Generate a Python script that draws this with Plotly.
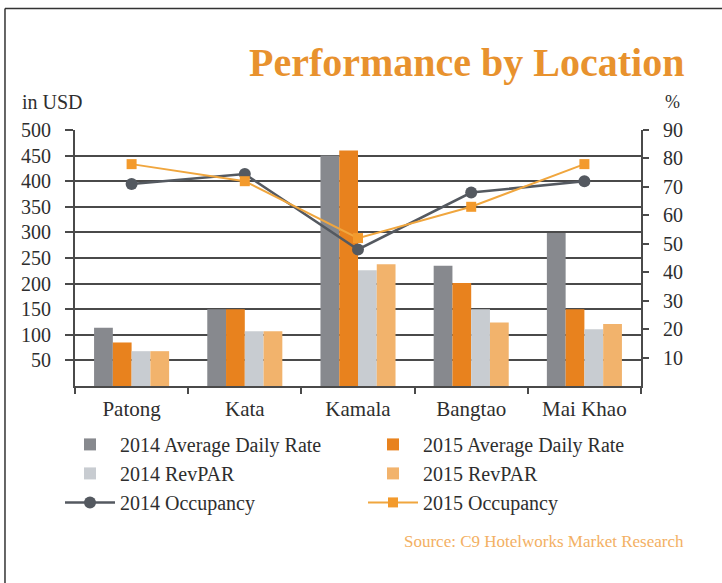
import plotly.graph_objects as go

locations = ["Patong", "Kata", "Kamala", "Bangtao", "Mai Khao"]
adr_2014 = [114, 150, 450, 235, 299]
adr_2015 = [85, 150, 460, 201, 150]
revpar_2014 = [68, 107, 226, 150, 111]
revpar_2015 = [68, 107, 238, 124, 121]
occ_2014 = [71, 74.5, 48, 68, 72]
occ_2015 = [78, 72, 52, 63, 78]

usd_ticks = [50, 100, 150, 200, 250, 300, 350, 400, 450, 500]
pct_ticks = [10, 20, 30, 40, 50, 60, 70, 80, 90]

FONT = "Liberation Serif"
AX = "#4a4a4a"
TXT = "#2e2e2e"

fig = go.Figure()
fig.add_trace(go.Bar(name="2014 Average Daily Rate", x=locations, y=adr_2014,
                     marker=dict(color="#87898e", line=dict(width=0))))
fig.add_trace(go.Bar(name="2015 Average Daily Rate", x=locations, y=adr_2015,
                     marker=dict(color="#e8821e", line=dict(width=0))))
fig.add_trace(go.Bar(name="2014 RevPAR", x=locations, y=revpar_2014,
                     marker=dict(color="#c8ccd1", line=dict(width=0))))
fig.add_trace(go.Bar(name="2015 RevPAR", x=locations, y=revpar_2015,
                     marker=dict(color="#f2b36c", line=dict(width=0))))
fig.add_trace(go.Scatter(name="2014 Occupancy", x=locations, y=occ_2014, yaxis="y2",
                         mode="lines+markers",
                         line=dict(color="#545960", width=2.5),
                         marker=dict(symbol="circle", size=12, color="#545960")))
fig.add_trace(go.Scatter(name="2015 Occupancy", x=locations, y=occ_2015, yaxis="y2",
                         mode="lines+markers",
                         line=dict(color="#f0a63e", width=2),
                         marker=dict(symbol="square", size=10, color="#f39a2c")))

fig.update_layout(
    width=722, height=583,
    margin=dict(l=75, r=81, t=130, b=197, autoexpand=False),
    paper_bgcolor="white", plot_bgcolor="white",
    font=dict(family=FONT, size=20, color=TXT),
    barmode="group", bargap=0.337, bargroupgap=0,
    title=dict(text="<b>Performance by Location</b>", xref="container", yref="container",
               x=0.948, xanchor="right", y=0.894, yanchor="middle",
               font=dict(family=FONT, size=40, color="#e8922e")),
    xaxis=dict(type="category", showline=True, linecolor=AX, linewidth=2,
               ticks="outside", tickson="boundaries", ticklen=6, tickwidth=2, tickcolor=AX,
               tickfont=dict(size=21, color=TXT), showgrid=False, ticklabelstandoff=3),
    yaxis=dict(range=[0, 500], tickvals=usd_ticks, ticks="outside", ticklen=8,
               tickwidth=2, tickcolor=AX, showline=True, linecolor=AX, linewidth=2,
               showgrid=True, gridcolor=AX, gridwidth=2, zeroline=False,
               tickfont=dict(size=20, color=TXT), ticklabelstandoff=10),
    yaxis2=dict(range=[0, 90], tickvals=pct_ticks, overlaying="y", side="right",
                ticks="outside", ticklen=6, tickwidth=2, tickcolor=AX,
                showline=True, linecolor=AX, linewidth=2, showgrid=False, zeroline=False,
                tickfont=dict(size=20, color=TXT), ticklabelstandoff=10),
    legend=dict(orientation="h", x=-0.0265, xanchor="left", y=-0.152, yanchor="top",
                itemwidth=50, entrywidth=238, entrywidthmode="pixels",
                font=dict(family=FONT, size=20, color=TXT), traceorder="normal",
                bgcolor="rgba(0,0,0,0)"),
    showlegend=True,
)

fig.add_annotation(text="in USD", xref="paper", yref="paper", x=-0.097, y=1.109,
                   xanchor="left", yanchor="middle", showarrow=False,
                   font=dict(family=FONT, size=20, color=TXT))
fig.add_annotation(text="%", xref="paper", yref="paper", x=1.039, y=1.109,
                   xanchor="left", yanchor="middle", showarrow=False,
                   font=dict(family=FONT, size=18, color=TXT))
fig.add_annotation(text="Source: C9 Hotelworks Market Research", xref="paper", yref="paper",
                   x=1.08, y=-0.609, xanchor="right", yanchor="middle", showarrow=False,
                   font=dict(family=FONT, size=17, color="#f3b063"))

# frame lines (left and top edges of the boxed graphic)
fig.add_shape(type="line", xref="paper", yref="paper", x0=-0.1237, x1=-0.1237,
              y0=-0.77, y1=1.4747, line=dict(color="#333333", width=1.5))
fig.add_shape(type="line", xref="paper", yref="paper", x0=-0.1237, x1=1.15,
              y0=1.4747, y1=1.4747, line=dict(color="#333333", width=1.5))

fig.write_html("out.html", config={"displayModeBar": False},
               post_script="document.body.style.margin='0px';")
